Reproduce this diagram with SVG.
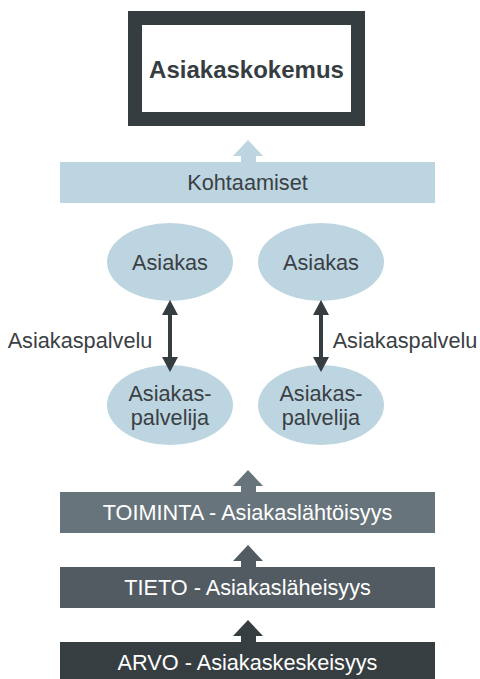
<svg xmlns="http://www.w3.org/2000/svg" width="480" height="679" viewBox="0 0 480 679">
  <style>
    .t { font-family: "Liberation Sans", Arial, sans-serif; font-size: 21.7px; text-anchor: middle; }
    .dark { fill: #3a4044; }
    .light { fill: #ffffff; }
    .ell { fill: #bdd5e0; }
    .conn { stroke: #363d41; stroke-width: 4; fill: none; marker-start: url(#ah); marker-end: url(#ah); }
  </style>
  <defs>
    <marker id="ah" markerUnits="userSpaceOnUse" viewBox="0 0 15 16" markerWidth="15" markerHeight="16" refX="3" refY="8" orient="auto-start-reverse">
      <path d="M0,0 L15,8 L0,16 z" fill="#363d41"/>
    </marker>
  </defs>
  <rect width="480" height="679" fill="#ffffff"/>

  <g id="asiakaskokemus">
    <rect x="135" y="18" width="223" height="101" fill="#ffffff" stroke="#363d41" stroke-width="14"/>
    <text x="246.5" y="78" class="t" style="font-weight:bold;font-size:24px" fill="#363d41">Asiakaskokemus</text>
  </g>

  <g id="kohtaamiset">
    <polygon points="248,140 263,156 256,156 256,163 241,163 241,156 233,156" fill="#bdd5e0"/>
    <rect x="60" y="162" width="375" height="41" fill="#bdd5e0"/>
    <text x="247.5" y="190" class="t dark">Kohtaamiset</text>
  </g>

  <g id="asiakas1">
    <ellipse cx="170" cy="262" rx="63" ry="39" class="ell"/>
    <text x="170" y="270" class="t dark">Asiakas</text>
  </g>
  <g id="asiakas2">
    <ellipse cx="321" cy="262" rx="63" ry="39" class="ell"/>
    <text x="321" y="270" class="t dark">Asiakas</text>
  </g>
  <g id="palvelija1">
    <ellipse cx="170" cy="405" rx="63" ry="40" class="ell"/>
    <text x="170" y="401" class="t dark">Asiakas-</text>
    <text x="170" y="425" class="t dark">palvelija</text>
  </g>
  <g id="palvelija2">
    <ellipse cx="321" cy="405" rx="63" ry="40" class="ell"/>
    <text x="321" y="401" class="t dark">Asiakas-</text>
    <text x="321" y="425" class="t dark">palvelija</text>
  </g>

  <g id="connectors">
    <line x1="170" y1="312" x2="170" y2="360" class="conn"/>
    <line x1="321" y1="312" x2="321" y2="360" class="conn"/>
    <text x="80" y="348" class="t dark">Asiakaspalvelu</text>
    <text x="405" y="348" class="t dark">Asiakaspalvelu</text>
  </g>

  <g id="toiminta">
    <polygon points="248,470 263,486 256,486 256,493 241,493 241,486 233,486" fill="#67747b"/>
    <rect x="60" y="492" width="375" height="41" fill="#67747b"/>
    <text x="247.5" y="520" class="t light">TOIMINTA - Asiakaslähtöisyys</text>
  </g>
  <g id="tieto">
    <polygon points="248,545 263,561 256,561 256,568 241,568 241,561 233,561" fill="#525b62"/>
    <rect x="60" y="567" width="375" height="41" fill="#525b62"/>
    <text x="247.5" y="595" class="t light">TIETO - Asiakasläheisyys</text>
  </g>
  <g id="arvo">
    <polygon points="248,620 263,636 256,636 256,643 241,643 241,636 233,636" fill="#373e42"/>
    <rect x="60" y="642" width="375" height="37" fill="#373e42"/>
    <text x="247.5" y="670" class="t light">ARVO - Asiakaskeskeisyys</text>
  </g>
</svg>
